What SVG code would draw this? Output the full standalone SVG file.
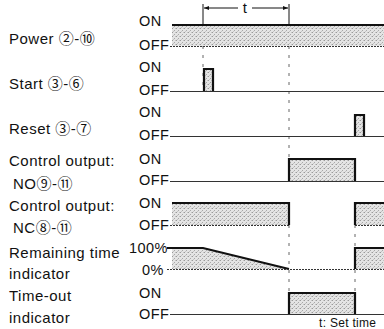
<svg xmlns="http://www.w3.org/2000/svg" width="384" height="329" viewBox="0 0 384 329">
<defs>
<pattern id="st" width="4" height="4" patternUnits="userSpaceOnUse">
<rect width="4" height="4" fill="#e4e4e4"/>
<rect x="0" y="0" width="1" height="1" fill="#9a9a9a"/>
<rect x="2" y="2" width="1" height="1" fill="#a8a8a8"/>
<rect x="3" y="0" width="1" height="1" fill="#c4c4c4"/>
<rect x="1" y="3" width="1" height="1" fill="#c4c4c4"/>
</pattern>
<marker id="ah" viewBox="0 0 10 10" refX="10" refY="5" markerWidth="8" markerHeight="5" orient="auto-start-reverse" markerUnits="userSpaceOnUse">
<path d="M0,1 L10,5 L0,9 z" fill="#111"/>
</marker>
</defs>
<style>
text{font-family:"Liberation Sans","Noto Sans CJK JP",sans-serif;font-size:15px;letter-spacing:0.5px;fill:#111}
.lv{font-size:14.5px;letter-spacing:0.4px}
.lg{font-size:12px;letter-spacing:0.3px}
.off{stroke:#333;stroke-width:1;fill:none}
.hi{stroke:#111;stroke-width:2.2;fill:none}
.fill{fill:url(#st);stroke:none}
.vd{stroke:#666;stroke-width:1;stroke-dasharray:3 6;fill:none}
.dim{stroke:#111;stroke-width:1;fill:none}
</style>
<rect width="384" height="329" fill="#fff"/>

<g id="connectors">
<line class="vd" x1="203" y1="28" x2="203" y2="92"/>
<line class="vd" x1="289" y1="28" x2="289" y2="160"/>
<line class="vd" x1="289" y1="225" x2="289" y2="293"/>
<line class="vd" x1="355" y1="225" x2="355" y2="293"/>
<line class="dim" x1="203" y1="4" x2="203" y2="25"/>
<line class="dim" x1="289" y1="4" x2="289" y2="25"/>
<line class="dim" x1="238" y1="8" x2="204" y2="8" marker-end="url(#ah)"/>
<line class="dim" x1="252" y1="8" x2="288" y2="8" marker-end="url(#ah)"/>
</g>

<g id="t-label"><text x="245" y="13" text-anchor="middle">t</text></g>

<g id="power">
<text x="9" y="44">Power ②-⑩</text>
<text class="lv" x="139" y="26">ON</text>
<text class="lv" x="139" y="50">OFF</text>
<rect class="fill" x="172" y="25" width="212" height="21"/>
<line class="hi" x1="172" y1="25" x2="384" y2="25"/>
<line class="off" x1="170" y1="46.5" x2="384" y2="46.5" stroke-dasharray="2 1"/>
</g>

<g id="start">
<text x="9" y="89">Start ③-⑥</text>
<text class="lv" x="139" y="72">ON</text>
<text class="lv" x="139" y="95">OFF</text>
<rect class="fill" x="204" y="69" width="9" height="22"/>
<polyline class="hi" points="204,91 204,69 213,69 213,91"/>
<line class="off" x1="170" y1="91.5" x2="384" y2="91.5"/>
</g>

<g id="reset">
<text x="9" y="134">Reset ③-⑦</text>
<text class="lv" x="139" y="117">ON</text>
<text class="lv" x="139" y="140">OFF</text>
<rect class="fill" x="355" y="115" width="9" height="22"/>
<polyline class="hi" points="355,137 355,115 364,115 364,137"/>
<line class="off" x1="170" y1="136.5" x2="384" y2="136.5"/>
</g>

<g id="control-no">
<text x="9" y="166">Control output:</text>
<text x="13" y="189">NO⑨-⑪</text>
<text class="lv" x="139" y="164">ON</text>
<text class="lv" x="139" y="185">OFF</text>
<rect class="fill" x="289" y="159" width="66" height="22"/>
<polyline class="hi" points="289,181 289,159 355,159 355,181"/>
<line class="off" x1="170" y1="181.5" x2="384" y2="181.5"/>
</g>

<g id="control-nc">
<text x="9" y="211">Control output:</text>
<text x="13" y="233">NC⑧-⑪</text>
<text class="lv" x="139" y="208">ON</text>
<text class="lv" x="139" y="230">OFF</text>
<rect class="fill" x="172" y="203" width="117" height="22"/>
<rect class="fill" x="355" y="203" width="29" height="22"/>
<polyline class="hi" points="172,203 289,203 289,225"/>
<polyline class="hi" points="355,225 355,203 384,203"/>
<line class="off" x1="170" y1="225.5" x2="289" y2="225.5" stroke-dasharray="2 1"/>
<line class="off" x1="355" y1="225.5" x2="384" y2="225.5" stroke-dasharray="2 1"/>
</g>

<g id="remaining">
<text x="9" y="258">Remaining time</text>
<text x="9" y="279">indicator</text>
<text class="lv" x="129" y="253">100%</text>
<text class="lv" x="142" y="275">0%</text>
<polygon class="fill" points="172,248 203,248 289,269 172,269"/>
<rect class="fill" x="355" y="248" width="29" height="21"/>
<polyline class="hi" points="167,248 203,248 289,269"/>
<polyline class="hi" points="355,269 355,248 384,248"/>
<line class="off" x1="167" y1="269.5" x2="384" y2="269.5" stroke-dasharray="2 1"/>
</g>

<g id="timeout">
<text x="9" y="301">Time-out</text>
<text x="9" y="323">indicator</text>
<text class="lv" x="139" y="298">ON</text>
<text class="lv" x="139" y="319">OFF</text>
<rect class="fill" x="289" y="293" width="66" height="21"/>
<polyline class="hi" points="289,314 289,293 355,293 355,314"/>
<line class="off" x1="170" y1="314.5" x2="384" y2="314.5"/>
</g>

<g id="legend"><text class="lg" x="319" y="327">t: Set time</text></g>
</svg>
